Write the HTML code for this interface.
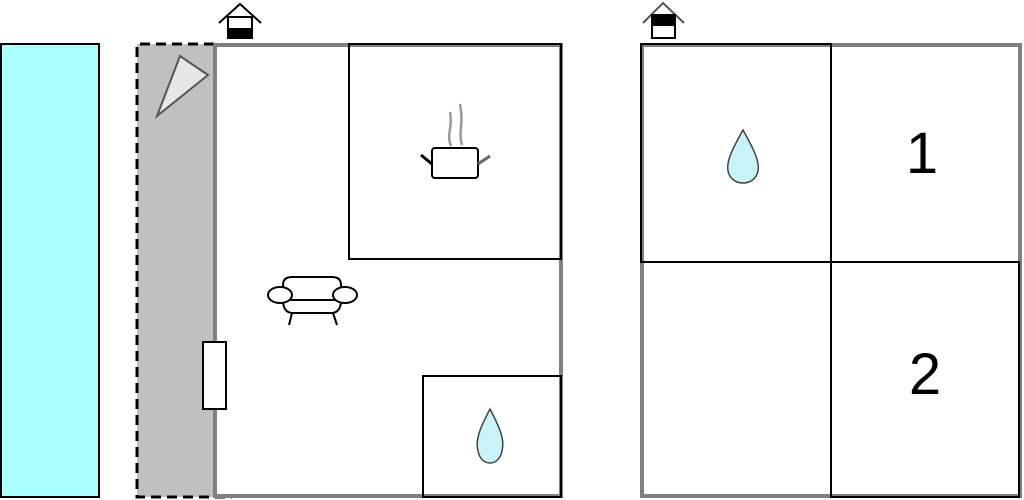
<!DOCTYPE html>
<html><head><meta charset="utf-8"><style>
html,body{margin:0;padding:0;background:#fff;width:1024px;height:500px;overflow:hidden}
</style></head><body>
<svg width="1024" height="500" xmlns="http://www.w3.org/2000/svg">
<rect x="1" y="44" width="98" height="453" fill="#aaffff" stroke="#000" stroke-width="2"/>
<rect x="137" y="44" width="77" height="453" fill="#c0c0c0"/>
<path d="M214,44 H137 V497 H232" fill="none" stroke="#000" stroke-width="3" stroke-dasharray="10,6"/>
<polygon points="157,116 180,56 208,75" fill="#e6e6e6" stroke="#555" stroke-width="2"/>
<rect x="215" y="45" width="346" height="451" fill="#fff" stroke="#808080" stroke-width="4"/>
<rect x="349" y="44" width="212" height="215" fill="none" stroke="#000" stroke-width="2"/>
<rect x="423" y="376" width="138" height="121" fill="none" stroke="#000" stroke-width="2"/>
<rect x="203" y="342" width="23" height="67" fill="#fff" stroke="#000" stroke-width="2"/>
<path d="M219,23 L240,4 L261,23" fill="none" stroke="#000" stroke-width="2"/>
<rect x="228" y="17" width="24" height="21" fill="#fff" stroke="#000" stroke-width="2"/>
<rect x="228" y="28" width="24" height="10" fill="#000"/>
<path d="M643,23 L663,3 L684,23" fill="none" stroke="#555" stroke-width="2"/>
<rect x="652" y="15" width="23" height="23" fill="#fff" stroke="#000" stroke-width="2"/>
<rect x="652" y="15" width="23" height="11" fill="#000"/>
<path d="M451,146 C446,134 453,128 450,112 M462,145 C458,132 464,124 460,104" fill="none" stroke="#999" stroke-width="2.5"/>
<rect x="432" y="148" width="46" height="30" rx="3" fill="#fff" stroke="#000" stroke-width="2"/>
<line x1="421" y1="155" x2="432" y2="164" stroke="#000" stroke-width="3"/>
<line x1="478" y1="164" x2="490" y2="156" stroke="#666" stroke-width="3"/>
<g fill="#fff" stroke="#000" stroke-width="2">
<path d="M283,300 V285 Q283,277 292,277 H332 Q341,277 341,285 V300"/>
<path d="M283,300 Q283,313 293,313 H331 Q341,313 341,300 Z"/>
<ellipse cx="280" cy="295" rx="12" ry="8"/>
<ellipse cx="345" cy="295" rx="12" ry="8"/>
<line x1="292" y1="313" x2="289" y2="325"/>
<line x1="333" y1="313" x2="337" y2="325"/>
</g>
<path d="M490,409 C480,428 475,440 478,451 C481,467 499,467 502,451 C505,440 500,428 490,409 Z" fill="#c8f4f8" stroke="#444" stroke-width="1.5"/>
<rect x="642" y="45" width="378" height="451" fill="#fff" stroke="#808080" stroke-width="4"/>
<rect x="641" y="44" width="190" height="218" fill="none" stroke="#000" stroke-width="2"/>
<rect x="831" y="262" width="188" height="235" fill="none" stroke="#000" stroke-width="2"/>
<line x1="641" y1="262" x2="831" y2="262" stroke="#000" stroke-width="2"/>
<path d="M743,130 C733,148 726,161 728,171 C731,187 755,187 758,171 C760,161 753,148 743,130 Z" fill="#c8f4f8" stroke="#444" stroke-width="1.5"/>
<text x="922" y="173" font-family="Liberation Sans, sans-serif" font-size="58" text-anchor="middle" fill="#000">1</text>
<text x="925" y="394" font-family="Liberation Sans, sans-serif" font-size="58" text-anchor="middle" fill="#000">2</text>
</svg>
</body></html>
